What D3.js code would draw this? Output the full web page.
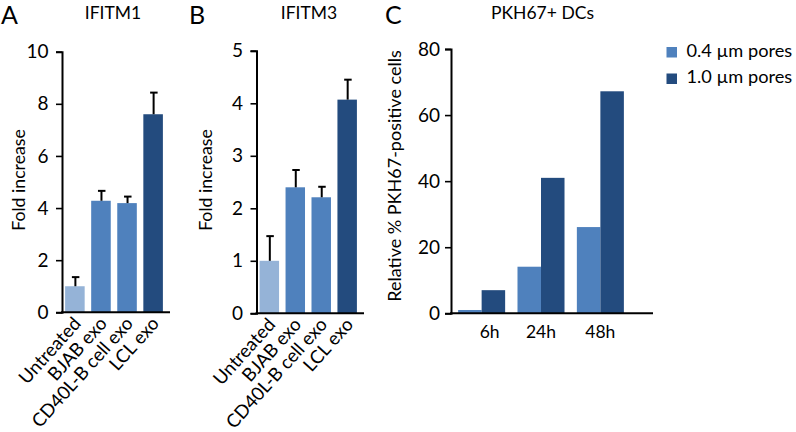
<!DOCTYPE html>
<html><head><meta charset="utf-8">
<script src="https://cdn.jsdelivr.net/npm/d3@7"></script>
<style>
html,body{margin:0;padding:0;background:#fff;}
svg text{font-family:Lato,"Open Sans",sans-serif;fill:#000;}
</style></head>
<body><svg id="c" width="796" height="432"></svg>
<script>
// ---- data ----
const categories = ["Untreated", "BJAB exo", "CD40L-B cell exo", "LCL exo"];
const barColors = ["#95b3d7", "#4f81bd", "#4f81bd", "#234b7e"];
const ifitm1Values = [1.0, 4.28, 4.19, 7.6];
const ifitm1Errors = [0.35, 0.38, 0.25, 0.83];
const ifitm1Ticks = [0, 2, 4, 6, 8, 10];
const ifitm3Values = [1.0, 2.4, 2.21, 4.07];
const ifitm3Errors = [0.47, 0.33, 0.2, 0.38];
const ifitm3Ticks = [0, 1, 2, 3, 4, 5];
const timepoints = ["6h", "24h", "48h"];
const poreSeries = ["0.4 µm pores", "1.0 µm pores"];
const poreColors = ["#4f81bd", "#234b7e"];
const pores04 = [1.0, 14.1, 26.1];
const pores10 = [7.0, 41.0, 67.2];
const pkhTicks = [0, 20, 40, 60, 80];

const svg = d3.select("#c");

function styleAxis(ya){
  ya.select(".domain").attr("stroke-width", 2);
  ya.selectAll(".tick line").attr("stroke-width", 1.6);
  ya.selectAll(".tick text").style("font-size", "19px").style("font-family", "Lato");
}

function panelFE(opt){
  const g = svg.append("g");
  const y = d3.scaleLinear().domain([0, opt.max]).range([opt.y0, opt.yTop]);
  const x = d3.scaleBand().domain(categories).range([opt.ax + 0.5, opt.axEnd - 0.5])
    .paddingInner(0.25).paddingOuter(0.1);
  // bars
  g.selectAll("rect.bar").data(categories).enter().append("rect")
    .attr("x", d => x(d)).attr("width", x.bandwidth())
    .attr("y", (d,i) => y(opt.values[i]))
    .attr("height", (d,i) => y(0) - y(opt.values[i]))
    .attr("fill", (d,i) => barColors[i]);
  // error bars
  categories.forEach((d,i) => {
    const cx = x(d) + x.bandwidth()/2 + 0.5;
    const top = y(opt.values[i] + opt.errors[i]);
    g.append("line").attr("x1", cx).attr("x2", cx)
      .attr("y1", y(opt.values[i])).attr("y2", top)
      .attr("stroke", "#000").attr("stroke-width", 2);
    g.append("line").attr("x1", cx - 3.5).attr("x2", cx + 4)
      .attr("y1", top).attr("y2", top)
      .attr("stroke", "#000").attr("stroke-width", 2);
  });
  // y axis
  const ya = g.append("g").attr("transform", `translate(${opt.ax},0)`)
    .call(d3.axisLeft(y).tickValues(opt.ticks).tickFormat(d3.format("d"))
      .tickSize(6).tickSizeOuter(6).tickPadding(7.5));
  styleAxis(ya);
  // x axis line
  g.append("line").attr("x1", opt.ax - 1).attr("x2", opt.axEnd + 4)
    .attr("y1", opt.y0).attr("y2", opt.y0).attr("stroke", "#000").attr("stroke-width", 2);
  // category labels
  categories.forEach(d => {
    const cx = x(d) + x.bandwidth()/2;
    g.append("text").attr("text-anchor", "end")
      .attr("transform", `translate(${cx + 7},${opt.y0 + 12}) rotate(-48)`)
      .style("font-size", "18.5px").text(d);
  });
  // y title
  g.append("text").attr("text-anchor", "middle")
    .attr("transform", `translate(${opt.titleX},${(opt.y0 + opt.yTop)/2 - 2}) rotate(-90)`)
    .style("font-size", "17.7px").text("Fold increase");
  // panel letter & title
  g.append("text").attr("x", opt.letterX).attr("y", 23.5).style("font-size", "25px").text(opt.letter);
  g.append("text").attr("x", opt.headX).attr("y", 18.5).attr("text-anchor", "middle")
    .style("font-size", "17.5px").text(opt.head);
}

panelFE({ax: 62, axEnd: 166, y0: 312.3, yTop: 51.7, max: 10, values: ifitm1Values, errors: ifitm1Errors,
  ticks: ifitm1Ticks, titleX: 25, letter: "A", letterX: 1, head: "IFITM1", headX: 113});
panelFE({ax: 256.5, axEnd: 360, y0: 313.3, yTop: 50.8, max: 5, values: ifitm3Values, errors: ifitm3Errors,
  ticks: ifitm3Ticks, titleX: 212, letter: "B", letterX: 189, head: "IFITM3", headX: 309});

// ---- panel C ----
(function(){
  const g = svg.append("g");
  const ax = 451, axEnd = 653, y0 = 313.3, yTop = 49;
  const y = d3.scaleLinear().domain([0, 80]).range([y0, yTop]);
  const x0 = d3.scaleBand().domain(timepoints).range([451, 631]).paddingInner(0.208).paddingOuter(0.12);
  const x1 = d3.scaleBand().domain(poreSeries).range([0, x0.bandwidth()]);
  const series = [pores04, pores10];
  series.forEach((vals, si) => {
    g.selectAll("rect.s" + si).data(timepoints).enter().append("rect")
      .attr("x", d => x0(d) + x1(poreSeries[si])).attr("width", x1.bandwidth())
      .attr("y", (d,i) => y(vals[i])).attr("height", (d,i) => y(0) - y(vals[i]))
      .attr("fill", poreColors[si]);
  });
  const ya = g.append("g").attr("transform", `translate(${ax},0)`)
    .call(d3.axisLeft(y).tickValues(pkhTicks).tickFormat(d3.format("d"))
      .tickSize(6).tickSizeOuter(6).tickPadding(5));
  styleAxis(ya);
  g.append("line").attr("x1", ax - 1).attr("x2", axEnd).attr("y1", y0).attr("y2", y0)
    .attr("stroke", "#000").attr("stroke-width", 2);
  timepoints.forEach((d, i) => {
    g.append("text").attr("x", x0(d) + x0.bandwidth()/2 + (i === 0 ? 8 : 0)).attr("y", 338)
      .attr("text-anchor", "middle").style("font-size", "17.5px").text(d);
  });
  g.append("text").attr("text-anchor", "middle")
    .attr("transform", `translate(401,176) rotate(-90)`)
    .style("font-size", "18px").text("Relative % PKH67-positive cells");
  g.append("text").attr("x", 385).attr("y", 23.5).style("font-size", "25px").text("C");
  g.append("text").attr("x", 542.5).attr("y", 18.5).attr("text-anchor", "middle")
    .style("font-size", "17.5px").text("PKH67+ DCs");
  // legend
  poreSeries.forEach((s, i) => {
    g.append("rect").attr("x", 666.5).attr("y", 47 + i*26.5).attr("width", 10.5).attr("height", 10.5)
      .attr("fill", poreColors[i]);
    g.append("text").attr("x", 686.5).attr("y", 56.5 + i*26.5).style("font-size", "18.2px").text(s);
  });
})();
</script></body></html>
